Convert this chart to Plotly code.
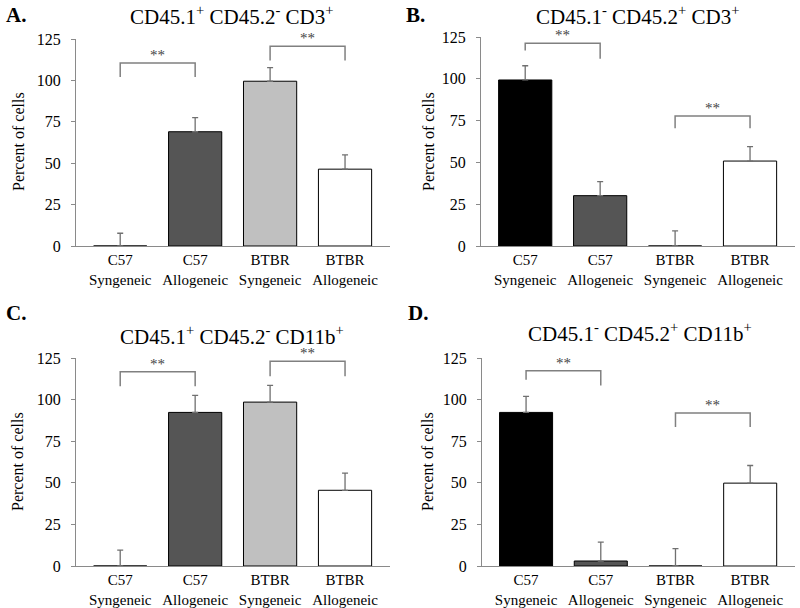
import plotly.graph_objects as go

categories = ["C57<br>Syngeneic", "C57<br>Allogeneic", "BTBR<br>Syngeneic", "BTBR<br>Allogeneic"]
bar_colors = ["#000000", "#555555", "#c0c0c0", "#ffffff"]

titles = [
    "CD45.1<sup>+</sup> CD45.2<sup>-</sup> CD3<sup>+</sup>",
    "CD45.1<sup>-</sup> CD45.2<sup>+</sup> CD3<sup>+</sup>",
    "CD45.1<sup>+</sup> CD45.2<sup>-</sup> CD11b<sup>+</sup>",
    "CD45.1<sup>-</sup> CD45.2<sup>+</sup> CD11b<sup>+</sup>",
]
panel_letters = ["A.", "B.", "C.", "D."]

values_A = [0, 69, 99.5, 46.4]
errors_A = [7.7, 8.5, 8.2, 8.6]
values_B = [99.3, 30.1, 0, 50.8]
errors_B = [8.5, 8.4, 9, 8.6]
values_C = [0, 92.3, 98.5, 45.5]
errors_C = [9.6, 10.2, 10, 10.3]
values_D = [92.3, 3, 0, 49.8]
errors_D = [9.6, 11.3, 10.4, 10.6]

# brackets: (left cat, right cat, top value, left end value, right end value)
brackets_A = [(0, 1, 110.5, 102, 102), (2, 3, 120.6, 112, 112)]
brackets_B = [(0, 1, 121.2, 117, 112), (2, 3, 77.7, 70.4, 70.4)]
brackets_C = [(0, 1, 116.8, 108, 108), (2, 3, 123, 114, 114)]
brackets_D = [(0, 1, 117.4, 112, 108.4), (2, 3, 92, 83.5, 83.5)]

yticks = [0, 25, 50, 75, 100, 125]
ylabel = "Percent of cells"

all_values = [values_A, values_B, values_C, values_D]
all_errors = [errors_A, errors_B, errors_C, errors_D]
all_brackets = [brackets_A, brackets_B, brackets_C, brackets_D]

W, H = 800, 608
# pixel boxes: (x0, x1, ytop, ybottom)
boxes = [(76, 390, 39, 246), (481, 795, 37, 246), (76, 390, 358, 566), (482, 795, 358, 566)]
title_pos = [(232, 15), (638, 15), (232, 335), (640, 332)]
letter_pos = [(4, 15), (404, 15), (4, 313), (406, 313)]
ylabel_pos = [(18, 142), (428, 142), (18, 462), (428, 462)]

FONT = "Liberation Serif"
fig = go.Figure()
for i in range(4):
    ax = "" if i == 0 else str(i + 1)
    vals = all_values[i]
    errs = all_errors[i]
    fig.add_trace(go.Bar(
        x=[0, 1, 2, 3], y=vals, width=0.71,
        marker=dict(color=bar_colors, line=dict(color="#000000", width=1)),
        error_y=dict(type="data", array=errs, arrayminus=[0] * 4, symmetric=False,
                     color="#707070", thickness=1.3, width=3),
        xaxis="x" + ax, yaxis="y" + ax, showlegend=False, hoverinfo="skip",
    ))
    x0, x1, yt, yb = boxes[i]
    fig.update_layout(**{
        "xaxis" + ax: dict(domain=[x0 / W, x1 / W], range=[-0.59, 3.6], anchor="y" + ax,
                           tickvals=[0, 1, 2, 3], ticktext=categories, showline=True,
                           linecolor="#8a8a8a", linewidth=1.3, ticks="", showgrid=False,
                           zeroline=False, automargin=False,
                           tickfont=dict(family=FONT, size=15, color="#000")),
        "yaxis" + ax: dict(domain=[1 - yb / H, 1 - yt / H], range=[0, 125], anchor="x" + ax,
                           tickvals=yticks, showline=True, linecolor="#8a8a8a", linewidth=1.3,
                           ticks="outside", ticklen=4, tickcolor="#8a8a8a", showgrid=False,
                           zeroline=False, automargin=False, ticklabelstandoff=7,
                           tickfont=dict(family=FONT, size=16, color="#000")),
    })
    for (l, r, top, le, re) in all_brackets[i]:
        fig.add_shape(type="path", xref="x" + ax, yref="y" + ax,
                      path=f"M {l},{le} L {l},{top} L {r},{top} L {r},{re}",
                      line=dict(color="#808080", width=1.5))
        fig.add_annotation(x=(l + r) / 2, y=top, xref="x" + ax, yref="y" + ax, text="**",
                           showarrow=False, yanchor="bottom", yshift=-2,
                           font=dict(family=FONT, size=15, color="#444"))
    tx, ty = title_pos[i]
    fig.add_annotation(x=tx / W, y=1 - ty / H, xref="paper", yref="paper", text=titles[i],
                       showarrow=False, xanchor="center", yanchor="middle",
                       font=dict(family=FONT, size=21, color="#000"))
    lx, ly = letter_pos[i]
    fig.add_annotation(x=lx / W, y=1 - ly / H, xref="paper", yref="paper",
                       text="<b>" + panel_letters[i] + "</b>", showarrow=False,
                       xanchor="left", yanchor="middle",
                       font=dict(family=FONT, size=21, color="#000"))
    px, py = ylabel_pos[i]
    fig.add_annotation(x=px / W, y=1 - py / H, xref="paper", yref="paper", text=ylabel,
                       textangle=-90, showarrow=False, xanchor="center", yanchor="middle",
                       font=dict(family=FONT, size=16, color="#000"))

fig.update_layout(width=W, height=H, margin=dict(l=0, r=0, t=0, b=0),
                  font=dict(family=FONT, color="#000"),
                  paper_bgcolor="white", plot_bgcolor="white", bargap=0.3)
fig.write_html("out.html", config={"displayModeBar": False},
               post_script="document.body.style.margin='0';document.body.style.overflow='hidden';")
